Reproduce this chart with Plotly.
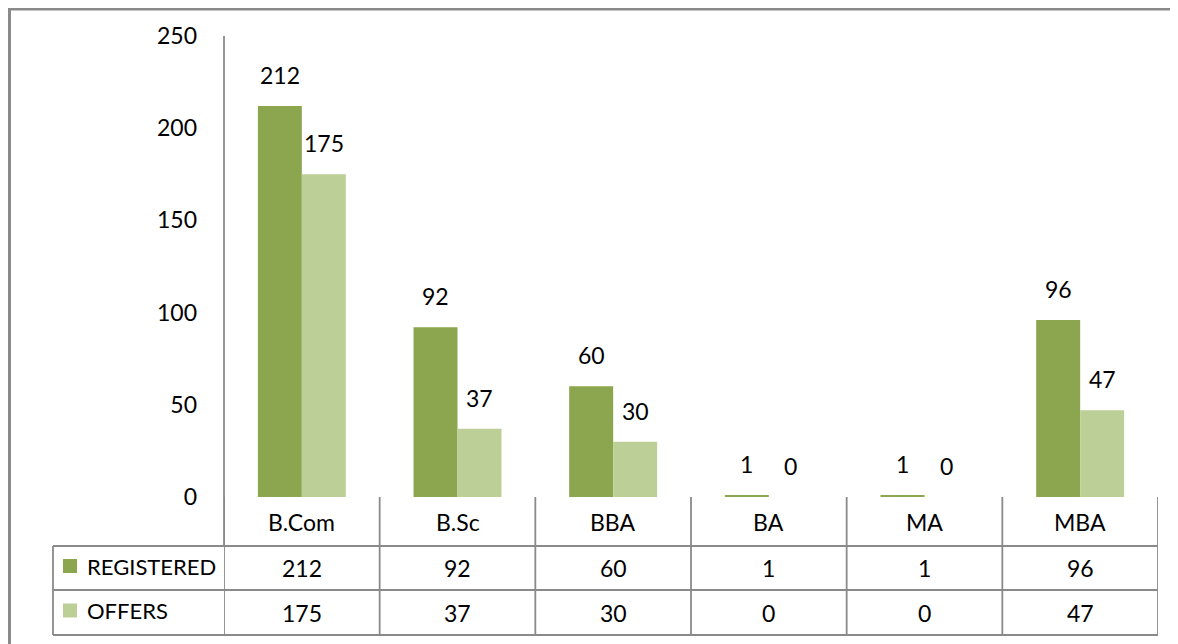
import plotly.graph_objects as go

categories = ["B.Com", "B.Sc", "BBA", "BA", "MA", "MBA"]
series_names = ["REGISTERED", "OFFERS"]
registered = [212, 92, 60, 1, 1, 96]
offers = [175, 37, 30, 0, 0, 47]
y_ticks = [0, 50, 100, 150, 200, 250]

# page has an 8px body margin: the figure is sized to fit the window exactly
OFF = 8
W, H = 1178 - OFF, 644 - OFF
colors = ["#8ba64e", "#bbcf97"]
line_col = "#8a8a8a"
font_family = "Lato, Calibri, sans-serif"
fsize = 23


def px(p):
    return (p - OFF) / W


def py(p):
    return (H - (p - OFF)) / H


x0px, x1px = 224, 1158
ytop, ybot = 36, 497

fig = go.Figure()
for name, vals, col in zip(series_names, [registered, offers], colors):
    fig.add_trace(go.Bar(x=categories, y=vals, name=name, marker=dict(color=col, line=dict(width=0)),
                         showlegend=False))

shapes = []
annotations = []
cat_w = (x1px - x0px) / len(categories)
bar_w = cat_w * (1 - 0.435) / 2
for si, vals in enumerate([registered, offers]):
    shift = (-0.5 if si == 0 else 0.5) * bar_w
    for c, v in zip(categories, vals):
        annotations.append(dict(x=c, y=v, xref="x", yref="y", text=str(v), showarrow=False,
                                xshift=shift, yanchor="bottom", yshift=15,
                                font=dict(size=fsize, color="#000", family=font_family)))

# frame (top and left)
shapes.append(dict(type="line", xref="paper", yref="paper", x0=0, x1=1, y0=py(9), y1=py(9),
                   line=dict(color=line_col, width=3)))
shapes.append(dict(type="line", xref="paper", yref="paper", x0=px(9.5), x1=px(9.5), y0=py(9), y1=0,
                   line=dict(color=line_col, width=3)))

row_cat = (497, 546)
row_reg = (546, 590)
row_off = (590, 635)
lw = 1.8
for yy in [546, 590, 635]:
    shapes.append(dict(type="line", xref="paper", yref="paper", x0=px(53), x1=px(x1px), y0=py(yy), y1=py(yy),
                       line=dict(color=line_col, width=lw)))
shapes.append(dict(type="line", xref="paper", yref="paper", x0=px(53), x1=px(53), y0=py(546), y1=py(635),
                   line=dict(color=line_col, width=lw)))
n = len(categories)
for i in range(n + 1):
    xb = i - 0.5
    shapes.append(dict(type="line", xref="x", yref="paper", x0=xb, x1=xb, y0=py(497), y1=py(635),
                       line=dict(color=line_col, width=lw)))
shapes.append(dict(type="line", xref="paper", yref="paper", x0=px(x0px), x1=px(x0px), y0=py(ytop), y1=py(546),
                   line=dict(color=line_col, width=lw)))

for c in categories:
    annotations.append(dict(x=c, y=py(sum(row_cat) / 2), xref="x", yref="paper", text=c, showarrow=False,
                            yanchor="middle", font=dict(size=fsize, color="#000", family=font_family)))
for vals, row in [(registered, row_reg), (offers, row_off)]:
    for c, v in zip(categories, vals):
        annotations.append(dict(x=c, y=py(sum(row) / 2), xref="x", yref="paper", text=str(v), showarrow=False,
                                yanchor="middle", font=dict(size=fsize, color="#000", family=font_family)))
for name, col, row in zip(series_names, colors, [row_reg, row_off]):
    yc = sum(row) / 2 - 2
    shapes.append(dict(type="rect", xref="paper", yref="paper", x0=px(63), x1=px(77),
                       y0=py(yc + 7), y1=py(yc - 7), fillcolor=col, line=dict(width=0)))
    annotations.append(dict(x=px(85), y=py(yc), xref="paper", yref="paper", text=name, showarrow=False,
                            xanchor="left", yanchor="middle",
                            font=dict(size=fsize - 1, color="#000", family=font_family)))

fig.update_layout(
    template="none",
    width=W, height=H,
    margin=dict(l=0, r=0, t=0, b=0, pad=0, autoexpand=False),
    paper_bgcolor="white", plot_bgcolor="white",
    barmode="group", bargap=0.435, bargroupgap=0,
    font=dict(family=font_family, size=fsize, color="#000"),
    xaxis=dict(domain=[px(x0px), px(x1px)], range=[-0.5, n - 0.5], showticklabels=False, automargin=False,
               showgrid=False, zeroline=False, showline=False, ticks="", fixedrange=True),
    yaxis=dict(domain=[py(ybot), py(ytop)], range=[0, 250], tickvals=y_ticks, showgrid=False, automargin=False,
               zeroline=False, showline=False, ticks="", ticklabelstandoff=26, fixedrange=True,
               tickfont=dict(size=fsize, family=font_family, color="#000")),
    shapes=shapes, annotations=annotations,
)

fig.write_html("out.html", config={"displayModeBar": False})
